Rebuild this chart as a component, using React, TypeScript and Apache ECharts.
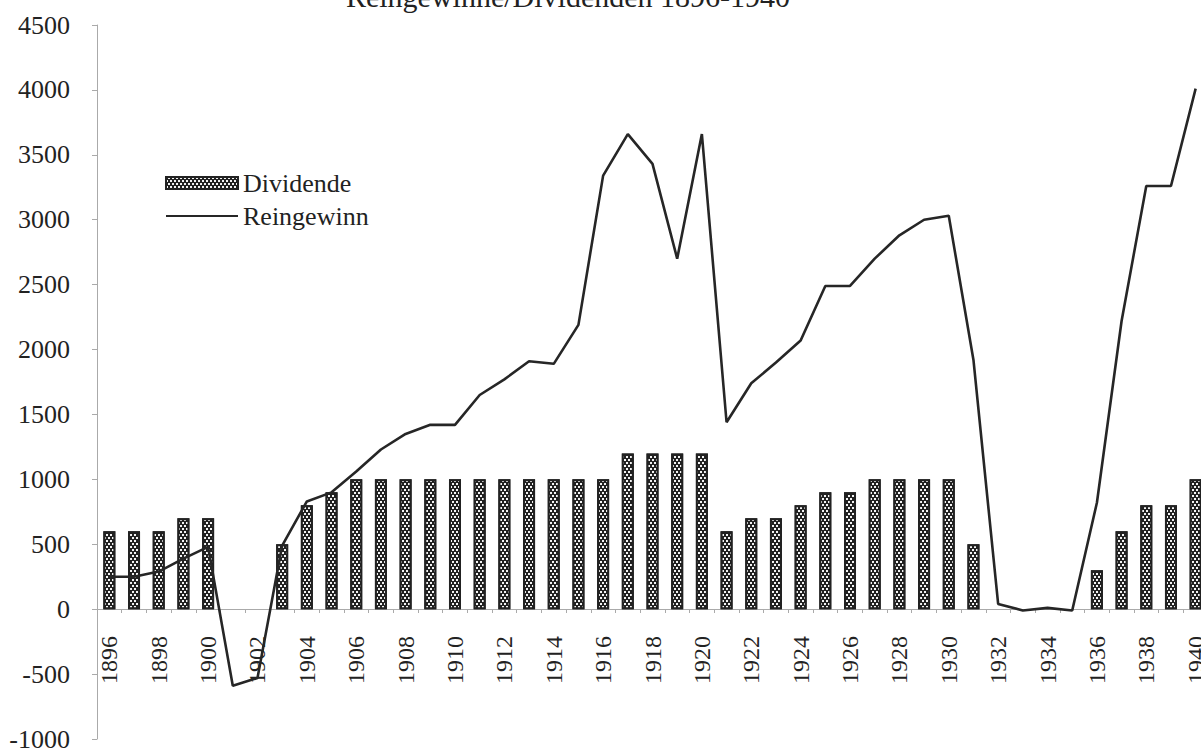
import React, { useEffect, useRef } from "react";
import * as echarts from "echarts";

const years = [
  "1896", "1897", "1898", "1899", "1900", "1901", "1902", "1903", "1904", "1905",
  "1906", "1907", "1908", "1909", "1910", "1911", "1912", "1913", "1914", "1915",
  "1916", "1917", "1918", "1919", "1920", "1921", "1922", "1923", "1924", "1925",
  "1926", "1927", "1928", "1929", "1930", "1931", "1932", "1933", "1934", "1935",
  "1936", "1937", "1938", "1939", "1940",
];

const dividende = [
  600, 600, 600, 700, 700, null, null, 500, 800, 900,
  1000, 1000, 1000, 1000, 1000, 1000, 1000, 1000, 1000, 1000,
  1000, 1200, 1200, 1200, 1200, 600, 700, 700, 800, 900,
  900, 1000, 1000, 1000, 1000, 500, null, null, null, null,
  300, 600, 800, 800, 1000,
];

const reingewinn = [
  250, 250, 290, 390, 480, -590, -530, 490, 830, 900,
  1060, 1230, 1350, 1420, 1420, 1650, 1770, 1910, 1890, 2190,
  3340, 3660, 3430, 2700, 3660, 1440, 1740, 1900, 2070, 2490,
  2490, 2700, 2880, 3000, 3030, 1920, 40, -10, 10, -10,
  820, 2220, 3260, 3260, 4010,
];

const titleText = "Reingewinne/Dividenden 1896-1940";
const FONT = "Liberation Serif";

export default function App() {
  const ref = useRef<HTMLDivElement>(null);

  useEffect(() => {
    if (!ref.current) return;
    const chart = echarts.init(ref.current, undefined, { renderer: "svg" });
    const decal = {
      symbol: "rect",
      symbolSize: 1,
      color: "#f4f4f4",
      dashArrayX: [[2, 2], [0, 2, 2, 0]],
      dashArrayY: [2, 1],
      rotation: 0,
    };
    chart.setOption({
      animation: false,
      backgroundColor: "#ffffff",
      textStyle: { fontFamily: FONT },
      graphic: [
        {
          type: "text",
          x: 568,
          y: 11,
          style: {
            text: titleText,
            fontFamily: FONT,
            fontSize: 30,
            fill: "#222",
            textAlign: "center",
            textVerticalAlign: "bottom",
            verticalAlign: "bottom",
          },
        },
      ],
      legend: {
        orient: "vertical",
        left: 160,
        top: 165,
        itemWidth: 72,
        itemHeight: 12,
        itemGap: 7,
        textStyle: { fontFamily: FONT, fontSize: 26, color: "#222", padding: [0, 0, 0, 0] },
        data: [
          { name: "Dividende", icon: "rect" },
          {
            name: "Reingewinn",
            itemStyle: { color: "rgba(0,0,0,0)", borderColor: "rgba(0,0,0,0)", borderWidth: 0 },
          },
        ],
      },
      grid: {
        left: 97,
        right: -7,
        top: 25,
        bottom: 10,
        containLabel: false,
        outerBoundsMode: "none",
      },
      xAxis: {
        type: "category",
        data: years,
        boundaryGap: true,
        offset: -130,
        axisLine: { onZero: false, lineStyle: { color: "#aaa", width: 1 } },
        axisTick: { show: true, interval: 0, length: 4, lineStyle: { color: "#aaa" } },
        axisLabel: {
          interval: 1,
          rotate: 90,
          margin: 27,
          fontFamily: FONT,
          fontSize: 24,
          color: "#222",
          hideOverlap: false,
        },
        splitLine: { show: false },
      },
      yAxis: {
        type: "value",
        min: -1000,
        max: 4500,
        interval: 500,
        axisLine: { show: true, lineStyle: { color: "#aaa", width: 1 } },
        axisTick: { show: true, length: 5, lineStyle: { color: "#aaa" } },
        axisLabel: {
          margin: 27,
          fontFamily: FONT,
          fontSize: 26,
          color: "#222",
          formatter: (v: number) => String(v),
        },
        splitLine: { show: false },
      },
      series: [
        {
          name: "Dividende",
          type: "bar",
          data: dividende,
          barWidth: 12,
          itemStyle: {
            color: "#222",
            borderColor: "#222",
            borderWidth: 2,
            decal,
          },
        },
        {
          name: "Reingewinn",
          type: "line",
          data: reingewinn,
          symbol: "none",
          showSymbol: false,
          lineStyle: { color: "#262626", width: 2.6 },
          itemStyle: { color: "#262626" },
          z: 3,
        },
      ],
    });
    return () => chart.dispose();
  }, []);

  return (
    <div
      ref={ref}
      style={{ position: "absolute", left: 0, top: 0, width: 1201, height: 749 }}
    />
  );
}
